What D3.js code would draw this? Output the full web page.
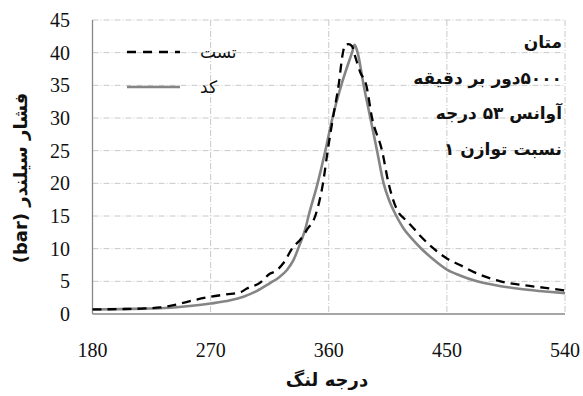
<!DOCTYPE html>
<html lang="fa">
<head>
<meta charset="utf-8">
<title>Cylinder pressure</title>
<script src="https://d3js.org/d3.v7.min.js"></script>
<style>
  body { margin: 0; background: #fff; }
  svg { display: block; }
  .grid { stroke: #c8c8c8; stroke-width: 1; stroke-dasharray: 6,2,1,2; }
  .axis-line { stroke: #888; stroke-width: 1.3; }
  .num { font-family: 'Times New Roman', 'Liberation Serif', 'DejaVu Serif', serif; font-size: 20px; fill: #111; }
  .fa { font-family: 'DejaVu Sans', sans-serif; fill: #111; }
</style>
</head>
<body>
<svg id="chart" width="583" height="396"></svg>
<script>
// crank angle (deg) and pressure (bar)
const testAngle = [180, 200, 220, 231.5, 245, 257, 270, 282, 292.5, 297.6, 307.8, 315.4, 319, 325.5, 333, 338,
  343.4, 349.7, 355.6, 359.2, 363.2, 367.5, 370.8, 372.6, 375, 377.7, 380, 384, 388.6, 393, 400.6, 405.6,
  409, 413.3, 417, 422, 430, 440, 450, 460, 473, 490.8, 508.6, 525, 540];
const testPressure = [0.7, 0.75, 0.85, 1.0, 1.5, 2.1, 2.65, 3.0, 3.3, 3.9, 4.8, 6.2, 6.5, 7.8, 10.3, 11.3,
  12.9, 15, 20, 25, 30, 35, 40, 41.2, 41.3, 41, 39.5, 37, 35, 30, 25, 20,
  17.5, 15.5, 14.7, 13.7, 11.9, 10, 8.5, 7.5, 6.2, 5, 4.4, 4.0, 3.6];

const codeAngle = [180, 200, 220, 231.5, 250, 270, 285, 295, 305, 315, 322, 328, 333, 338, 342, 344.6,
  351.5, 357.4, 362.8, 369.5, 377.7, 379.7, 382, 386.6, 391.7, 396.8, 401.8, 406, 411.5, 417, 423, 430,
  440, 450, 460, 473, 490, 508, 525, 540];
const codePressure = [0.7, 0.75, 0.82, 0.87, 1.15, 1.6, 2.1, 2.65, 3.5, 4.7, 5.6, 6.7, 8.2, 10.7, 12.9, 15,
  20, 25, 30, 35, 40, 41.2, 40, 35, 30, 25, 20, 17.4, 15, 13.1, 11.6, 10.1,
  8.3, 6.8, 5.9, 5, 4.3, 3.8, 3.45, 3.2];

const xTicks = [180, 270, 360, 450, 540];
const yTicks = [0, 5, 10, 15, 20, 25, 30, 35, 40, 45];

const legendLabels = ["تست", "کد"];
const notes = ["متان", "۵۰۰۰دور بر دقیقه", "آوانس ۵۳ درجه", "نسبت توازن ۱"];
const xTitle = "درجه لنگ";
const yTitle = "فشار سیلندر (bar)";

const svg = d3.select("#chart");
const plotLeft = 92.5, plotRight = 565, plotTop = 20, plotBottom = 314;

const x = d3.scaleLinear().domain([180, 540]).range([plotLeft, plotRight]);
const y = d3.scaleLinear().domain([0, 45]).range([plotBottom, plotTop]);

// grid
svg.append("g").selectAll("line").data(yTicks.filter(d => d > 0)).join("line")
  .attr("class", "grid")
  .attr("x1", plotLeft).attr("x2", plotRight)
  .attr("y1", d => y(d)).attr("y2", d => y(d));
svg.append("g").selectAll("line").data(xTicks.filter(d => d > 180)).join("line")
  .attr("class", "grid")
  .attr("x1", d => x(d)).attr("x2", d => x(d))
  .attr("y1", plotTop).attr("y2", plotBottom);

// axes
svg.append("line").attr("class", "axis-line")
  .attr("x1", plotLeft).attr("x2", plotLeft).attr("y1", plotTop).attr("y2", plotBottom);
svg.append("line").attr("class", "axis-line")
  .attr("x1", plotLeft).attr("x2", plotRight).attr("y1", plotBottom).attr("y2", plotBottom);

svg.append("g").selectAll("text").data(yTicks).join("text")
  .attr("class", "num")
  .attr("x", 70).attr("y", d => y(d))
  .attr("dy", "0.35em")
  .attr("text-anchor", "end")
  .text(d => d);

svg.append("g").selectAll("text").data(xTicks).join("text")
  .attr("class", "num")
  .attr("x", d => x(d)).attr("y", 357)
  .attr("text-anchor", "middle")
  .text(d => d);

// series
const line = d3.line().x(d => x(d[0])).y(d => y(d[1])).curve(d3.curveMonotoneX);

svg.append("path")
  .datum(codeAngle.map((a, i) => [a, codePressure[i]]))
  .attr("d", line)
  .attr("fill", "none").attr("stroke", "#858585").attr("stroke-width", 2.6);

svg.append("path")
  .datum(testAngle.map((a, i) => [a, testPressure[i]]))
  .attr("d", line)
  .attr("fill", "none").attr("stroke", "#000").attr("stroke-width", 2.3)
  .attr("stroke-dasharray", "9,6");

// legend
const legend = svg.append("g");
legend.append("line").attr("x1", 127).attr("x2", 180).attr("y1", 52).attr("y2", 52)
  .attr("stroke", "#000").attr("stroke-width", 2.3).attr("stroke-dasharray", "9,7");
legend.append("line").attr("x1", 127).attr("x2", 180).attr("y1", 87).attr("y2", 87)
  .attr("stroke", "#858585").attr("stroke-width", 2.6);
legend.selectAll("text").data(legendLabels).join("text")
  .attr("class", "fa")
  .attr("x", 200).attr("y", (d, i) => 58 + i * 35)
  .attr("font-size", 17)
  .text(d => d);

// notes, right aligned (rtl: start is the right edge)
svg.append("g").selectAll("text").data(notes).join("text")
  .attr("class", "fa")
  .attr("direction", "rtl")
  .attr("x", 562).attr("y", (d, i) => 48 + i * 35.7)
  .attr("text-anchor", "start")
  .attr("font-size", 17).attr("font-weight", "bold")
  .text(d => d);

// axis titles
svg.append("text")
  .attr("class", "fa")
  .attr("direction", "rtl")
  .attr("x", 327).attr("y", 386)
  .attr("text-anchor", "middle")
  .attr("font-size", 18).attr("font-weight", "bold")
  .text(xTitle);

svg.append("text")
  .attr("class", "fa")
  .attr("transform", "translate(27,178) rotate(-90)")
  .attr("text-anchor", "middle")
  .attr("direction", "rtl")
  .attr("font-size", 18).attr("font-weight", "bold")
  .text(yTitle);
</script>
</body>
</html>
